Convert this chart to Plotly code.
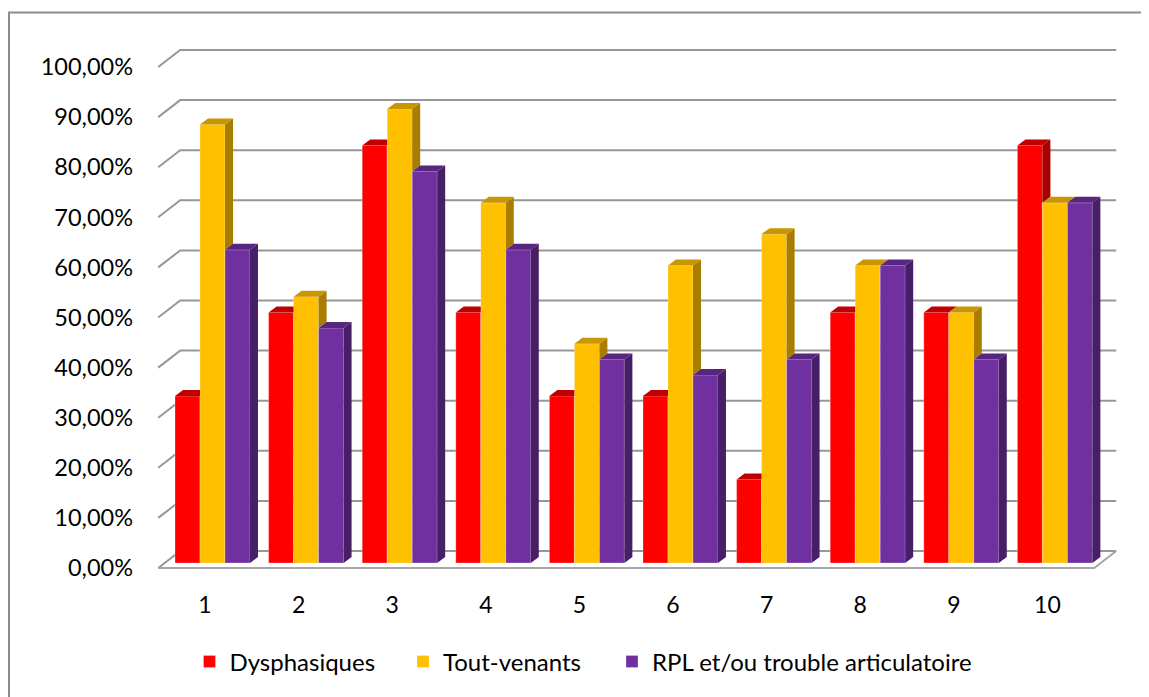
import plotly.graph_objects as go

# ---------------- data ----------------
categories = ["1", "2", "3", "4", "5", "6", "7", "8", "9", "10"]
dysphasiques = [0.3333, 0.5000, 0.8333, 0.5000, 0.3333, 0.3333, 0.1667, 0.5000, 0.5000, 0.8333]
tout_venants = [0.8750, 0.5313, 0.9063, 0.7188, 0.4375, 0.5938, 0.6563, 0.5938, 0.5000, 0.7188]
rpl = [0.6250, 0.4688, 0.7813, 0.6250, 0.4063, 0.3750, 0.4063, 0.5938, 0.4063, 0.7188]
series_names = ["Dysphasiques", "Tout-venants", "RPL et/ou trouble articulatoire"]
y_ticks = [0.0, 0.1, 0.2, 0.3, 0.4, 0.5, 0.6, 0.7, 0.8, 0.9, 1.0]

series_values = [dysphasiques, tout_venants, rpl]

# ---------------- style / geometry ----------------
front_colors = ["#FF0000", "#FFC000", "#7030A0"]
top_colors = ["#C00000", "#C99600", "#58267E"]
side_colors = ["#A80000", "#A87D00", "#471F66"]

W = 0.267          # bar width (category units)
BASE = 0.01        # bar plane sits slightly behind floor front edge
SHIFT = 0.08       # bar plane x shift
DX = 0.0855        # bar depth in x (category units)
DY = 0.012         # bar depth in y (value units)
WDX = 0.235        # wall depth in x
WDY = 0.0339       # wall depth in y
GRID = "#979797"
FONT = "Lato"

OFF = 8            # page body margin
W_PX, H_PX = 1149, 697
ML, MR, MT, MB = 140, 9, 12, 120
PX_X = 93.6
PX_Y = 501.0
CX1 = 205 - OFF    # pixel of category 1 on the floor front edge
Y0 = 568 - OFF     # pixel of 0 on the front plane
plot_w = W_PX - ML - MR
plot_h = H_PX - MT - MB
x0 = 1 + (ML - CX1) / PX_X
x1 = x0 + plot_w / PX_X
y_top_v = (Y0 - MT) / PX_Y
y_bot_v = (Y0 - (H_PX - MB)) / PX_Y

n = len(categories)
xs = list(range(1, n + 1))

fig = go.Figure()

legend_ids = ["legend", "legend2", "legend3"]
# front faces as bars
for k, (name, vals) in enumerate(zip(series_names, series_values)):
    fig.add_trace(go.Bar(
        x=[i + SHIFT + (k - 1) * W for i in xs],
        y=vals,
        base=BASE,
        width=W,
        name=name,
        legend=legend_ids[k],
        marker=dict(color=front_colors[k], line=dict(width=0.6, color="rgba(255,255,255,0.45)")),
        hoverinfo="skip",
    ))

# side & top faces (clipped where hidden by the neighbouring bar)
for k in range(3):
    side_x, side_y, top_x, top_y = [], [], [], []
    for j, i in enumerate(xs):
        xl = i + SHIFT + (k - 1) * W - W / 2
        xr = xl + W
        t = BASE + series_values[k][j]
        nxt = BASE + series_values[k + 1][j] if k < 2 else None
        low = BASE if nxt is None else nxt
        if t > low:
            side_x += [xr, xr, xr + DX, xr + DX, xr, None]
            side_y += [low, t, t + DY, low + DY, low, None]
        if nxt is not None and nxt > t:
            top_x += [xl, xr, xr, xl + DX, xl, None]
            top_y += [t, t, t + DY, t + DY, t, None]
        else:
            top_x += [xl, xr, xr + DX, xl + DX, xl, None]
            top_y += [t, t, t + DY, t + DY, t, None]
    fig.add_trace(go.Scatter(x=side_x, y=side_y, mode="lines", fill="toself",
                             fillcolor=side_colors[k], line=dict(width=0),
                             showlegend=False, hoverinfo="skip"))
    fig.add_trace(go.Scatter(x=top_x, y=top_y, mode="lines", fill="toself",
                             fillcolor=top_colors[k], line=dict(width=0),
                             showlegend=False, hoverinfo="skip"))

# back wall gridlines with left-wall diagonals
xa, xb = 0.5, n + 0.5
shapes = []
for v in y_ticks:
    path = f"M {xa},{v} L {xa + WDX},{v + WDY} L {xb + WDX},{v + WDY}"
    shapes.append(dict(type="path", path=path, xref="x", yref="y", layer="below",
                       line=dict(color=GRID, width=2)))
# floor front and right edges
shapes.append(dict(type="path",
                   path=f"M {xa},0 L {xb},0 L {xb + WDX},{WDY}",
                   xref="x", yref="y", layer="below",
                   line=dict(color="#A6A6A6", width=2)))
# chart border (left and top)
def px_to_paper_x(p):
    return (p - ML) / plot_w

def px_to_paper_y(p):
    return 1 - (p - MT) / plot_h

bx = px_to_paper_x(9 - OFF)
by_top = px_to_paper_y(12.5 - OFF)
by_bot = px_to_paper_y(H_PX + 5)
shapes.append(dict(type="path", xref="paper", yref="paper",
                   path=f"M {bx},{by_bot} L {bx},{by_top} L {px_to_paper_x(W_PX + 5)},{by_top}",
                   line=dict(color="#8C8C8C", width=2), layer="above"))

legend_square_centers = [211.5, 425, 634]
legend_common = dict(orientation="h", xanchor="left", yanchor="middle",
                     font=dict(family=FONT, size=24, color="#000000"),
                     bgcolor="rgba(0,0,0,0)", borderwidth=0)
legends = {}
for lid, sc in zip(legend_ids, legend_square_centers):
    legends[lid] = dict(legend_common, x=px_to_paper_x(sc - 22 - OFF),
                        y=px_to_paper_y(662 - OFF))

fig.update_layout(
    width=W_PX, height=H_PX,
    margin=dict(l=ML, r=MR, t=MT, b=MB),
    paper_bgcolor="white", plot_bgcolor="white",
    barmode="overlay",
    separators=", ",
    shapes=shapes,
    font=dict(family=FONT, size=23, color="#000000"),
    showlegend=True,
    xaxis=dict(range=[x0, x1], tickvals=xs, ticktext=categories, showgrid=False,
               zeroline=False, showline=False, ticks="", ticklabelstandoff=4,
               tickfont=dict(family=FONT, size=23)),
    yaxis=dict(range=[y_bot_v, y_top_v], tickvals=y_ticks, tickformat=".2%",
               showgrid=False, zeroline=False, showline=False, ticks="",
               ticklabelstandoff=14, tickfont=dict(family=FONT, size=23.5)),
    **legends,
)

fig.write_html("out.html")
